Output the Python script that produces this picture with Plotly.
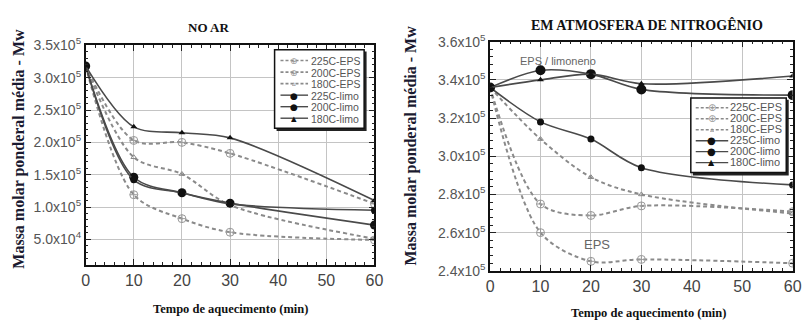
import plotly.graph_objects as go

# ---------------- data ----------------
times = [0, 10, 20, 30, 60]
series_names = ["225C-EPS", "200C-EPS", "180C-EPS", "225C-limo", "200C-limo", "180C-limo"]

# NO AR (values in g/mol)
ar_225_eps = [3.18e5, 1.19e5, 0.82e5, 0.61e5, 0.49e5]
ar_200_eps = [3.18e5, 2.03e5, 2.00e5, 1.83e5, 1.05e5]
ar_180_eps = [3.18e5, 1.77e5, 1.51e5, 1.03e5, 0.51e5]
ar_225_limo = [3.18e5, 1.46e5, 1.22e5, 1.06e5, 0.72e5]
ar_200_limo = [3.18e5, 1.42e5, 1.22e5, 1.05e5, 0.95e5]
ar_180_limo = [3.18e5, 2.24e5, 2.15e5, 2.07e5, 1.10e5]

# EM ATMOSFERA DE NITROGENIO
n2_225_eps = [3.36e5, 2.60e5, 2.45e5, 2.46e5, 2.44e5]
n2_200_eps = [3.36e5, 2.75e5, 2.69e5, 2.74e5, 2.71e5]
n2_180_eps = [3.36e5, 3.09e5, 2.89e5, 2.80e5, 2.70e5]
n2_225_limo = [3.36e5, 3.18e5, 3.09e5, 2.94e5, 2.85e5]
n2_200_limo = [3.36e5, 3.45e5, 3.43e5, 3.35e5, 3.32e5]
n2_180_limo = [3.36e5, 3.40e5, 3.43e5, 3.38e5, 3.42e5]

ar_yticks = [5e4, 1e5, 1.5e5, 2e5, 2.5e5, 3e5, 3.5e5]
ar_yticktext = ["5.0x10<sup>4</sup>", "1.0x10<sup>5</sup>", "1.5x10<sup>5</sup>", "2.0x10<sup>5</sup>",
                "2.5x10<sup>5</sup>", "3.0x10<sup>5</sup>", "3.5x10<sup>5</sup>"]
n2_yticks = [2.4e5, 2.6e5, 2.8e5, 3.0e5, 3.2e5, 3.4e5, 3.6e5]
n2_yticktext = ["2.4x10<sup>5</sup>", "2.6x10<sup>5</sup>", "2.8x10<sup>5</sup>", "3.0x10<sup>5</sup>",
                "3.2x10<sup>5</sup>", "3.4x10<sup>5</sup>", "3.6x10<sup>5</sup>"]
xticks = [0, 10, 20, 30, 40, 50, 60]

# ---------------- styles ----------------
EPS_COLOR = "#8a8a8a"
LIMO_COLOR = "#4a4a4a"
DASH = "4px,3px"

def style(name, panel):
    if name.endswith("EPS"):
        line = dict(color=EPS_COLOR, width=2, dash=DASH, shape="spline", smoothing=0.9)
        if name.startswith("180"):
            marker = dict(symbol="triangle-up-open", size=5, color=EPS_COLOR, line=dict(width=1, color=EPS_COLOR))
        else:
            marker = dict(symbol="circle-cross-open", size=8, color="#9a9a9a", line=dict(width=1, color="#9a9a9a"))
    else:
        line = dict(color=LIMO_COLOR, width=1.6, shape="spline", smoothing=0.9)
        if name.startswith("180"):
            marker = dict(symbol="triangle-up", size=6, color="#111")
        elif name.startswith("225"):
            marker = dict(symbol="circle", size=9 if panel == 1 else 7, color="#111")
        else:
            marker = dict(symbol="circle", size=7 if panel == 1 else 10, color="#111")
    return line, marker

def legend_glyph(name):
    if name.endswith("EPS"):
        return ("▵", "#888") if name.startswith("180") else ("⊕", "#999")
    return ("▲", "#111") if name.startswith("180") else ("●", "#111")

fig = go.Figure()

ar_data = [ar_225_eps, ar_200_eps, ar_180_eps, ar_225_limo, ar_200_limo, ar_180_limo]
n2_data = [n2_225_eps, n2_200_eps, n2_180_eps, n2_225_limo, n2_200_limo, n2_180_limo]

for name, ys in zip(series_names, ar_data):
    line, marker = style(name, 1)
    fig.add_trace(go.Scatter(x=times, y=ys, name=name, mode="lines+markers", line=line, marker=marker,
                             xaxis="x", yaxis="y", showlegend=False))
for name, ys in zip(series_names, n2_data):
    line, marker = style(name, 2)
    fig.add_trace(go.Scatter(x=times, y=ys, name=name, mode="lines+markers", line=line, marker=marker,
                             xaxis="x2", yaxis="y2", showlegend=False))

W, H = 811, 328
def px_x(p): return p / W
def px_y(p): return 1 - p / H

axis_common = dict(
    showline=True, linecolor="#111", linewidth=1.5, mirror="allticks",
    ticks="inside", ticklen=6, tickcolor="#222", tickwidth=1,
    showgrid=True, gridcolor="#c4c4c4", gridwidth=1, zeroline=False,
)
yfont = dict(family="Liberation Sans, Arial", size=14, color="#555")
xfont = dict(family="Liberation Sans, Arial", size=16, color="#444")

fig.update_layout(
    width=W, height=H,
    margin=dict(l=0, r=0, t=0, b=0),
    paper_bgcolor="white", plot_bgcolor="white",
    showlegend=False,
    xaxis=dict(domain=[px_x(83), px_x(376.5)], range=[0, 60], tickvals=xticks, anchor="y", tickfont=xfont,
               minor=dict(ticks="inside", ticklen=3, dtick=2, tickcolor="#222", showgrid=False),
               **axis_common),
    yaxis=dict(domain=[px_y(270), px_y(37.5)], range=[1e4, 3.5e5], tickvals=ar_yticks, ticktext=ar_yticktext,
               anchor="x", tickfont=yfont,
               minor=dict(ticks="inside", ticklen=3, dtick=1e4, tickcolor="#222", showgrid=False),
               **axis_common),
    xaxis2=dict(domain=[px_x(494), px_x(801.5)], range=[0, 60], tickvals=xticks, anchor="y2", tickfont=xfont,
                minor=dict(ticks="inside", ticklen=3, dtick=2, tickcolor="#222", showgrid=False),
                **axis_common),
    yaxis2=dict(domain=[px_y(276), px_y(33.5)], range=[2.4e5, 3.6e5], tickvals=n2_yticks, ticktext=n2_yticktext,
                anchor="x2", tickfont=yfont,
                minor=dict(ticks="inside", ticklen=3, dtick=4e3, tickcolor="#222", showgrid=False),
                **axis_common),
)

# ---------------- legends (box + samples + labels) ----------------
def draw_legend(x0, y0, x1, y1, first_y, step, line_x0, line_x1, text_x, fsize, glyph_scale):
    # shadow and box
    fig.add_shape(type="rect", xref="paper", yref="paper",
                  x0=px_x(x0 + 2), x1=px_x(x1 + 2.5), y0=px_y(y1 + 3), y1=px_y(y0 + 2),
                  fillcolor="#222", line=dict(width=0), layer="above")
    fig.add_shape(type="rect", xref="paper", yref="paper",
                  x0=px_x(x0), x1=px_x(x1), y0=px_y(y1), y1=px_y(y0),
                  fillcolor="white", line=dict(color="#111", width=1.5), layer="above")
    for i, name in enumerate(series_names):
        yc = first_y + i * step
        eps = name.endswith("EPS")
        fig.add_shape(type="line", xref="paper", yref="paper",
                      x0=px_x(line_x0), x1=px_x(line_x1), y0=px_y(yc), y1=px_y(yc),
                      line=dict(color=EPS_COLOR if eps else LIMO_COLOR, width=1.6 if eps else 1.4,
                                dash="3px,2px" if eps else "solid"), layer="above")
        g, c = legend_glyph(name)
        gs = glyph_scale * (0.8 if name.startswith("180") else 1.0)
        fig.add_annotation(text=g, xref="paper", yref="paper", x=px_x((line_x0 + line_x1) / 2), y=px_y(yc),
                           showarrow=False, xanchor="center", yanchor="middle", height=step - 1,
                           borderpad=0, font=dict(family="DejaVu Sans", size=gs, color=c))
        fig.add_annotation(text=name, xref="paper", yref="paper", x=px_x(text_x), y=px_y(yc),
                           showarrow=False, xanchor="left", yanchor="middle", height=step - 1,
                           borderpad=0, font=dict(family="Liberation Sans, Arial", size=fsize, color="#555"))

draw_legend(275, 42, 366, 125, 53.5, 12.2, 281, 309, 311, 10.5, 9)
draw_legend(698, 93, 795, 172, 103.5, 11.6, 703, 736, 737, 11, 10)

title_font = dict(family="Liberation Serif, Times New Roman", size=13, color="#111")
ytitle_font = dict(family="Liberation Serif, Times New Roman", size=16, color="#1a1a30")
xtitle_font = dict(family="Liberation Serif, Times New Roman", size=12.5, color="#111")

ann = [
    dict(text="<b>NO AR</b>", x=px_x(208), y=px_y(18), font=title_font),
    dict(text="<b>EM ATMOSFERA DE NITROGÊNIO</b>", x=px_x(653), y=px_y(16), font=dict(title_font, size=14)),
    dict(text="<b>Tempo de aquecimento (min)</b>", x=px_x(230), y=px_y(316), font=xtitle_font),
    dict(text="<b>Tempo de aquecimento (min)</b>", x=px_x(655), y=px_y(321), font=xtitle_font),
    dict(text="<b>Massa molar ponderal média - Mw</b>", x=px_x(15), y=px_y(147), font=ytitle_font, textangle=-90),
    dict(text="<b>Massa molar ponderal média - Mw</b>", x=px_x(414), y=px_y(143), font=ytitle_font, textangle=-90),
]
for a in ann:
    fig.add_annotation(xref="paper", yref="paper", showarrow=False, xanchor="center", yanchor="middle", **a)

fig.add_annotation(text="EPS / limoneno", x=13.5, y=3.50e5, xref="x2", yref="y2", showarrow=False,
                   font=dict(family="Liberation Sans, Arial", size=11, color="#666"))
fig.add_annotation(text="EPS", x=21.3, y=2.54e5, xref="x2", yref="y2", showarrow=False,
                   font=dict(family="Liberation Sans, Arial", size=13, color="#666"))

fig.write_html("out.html")
